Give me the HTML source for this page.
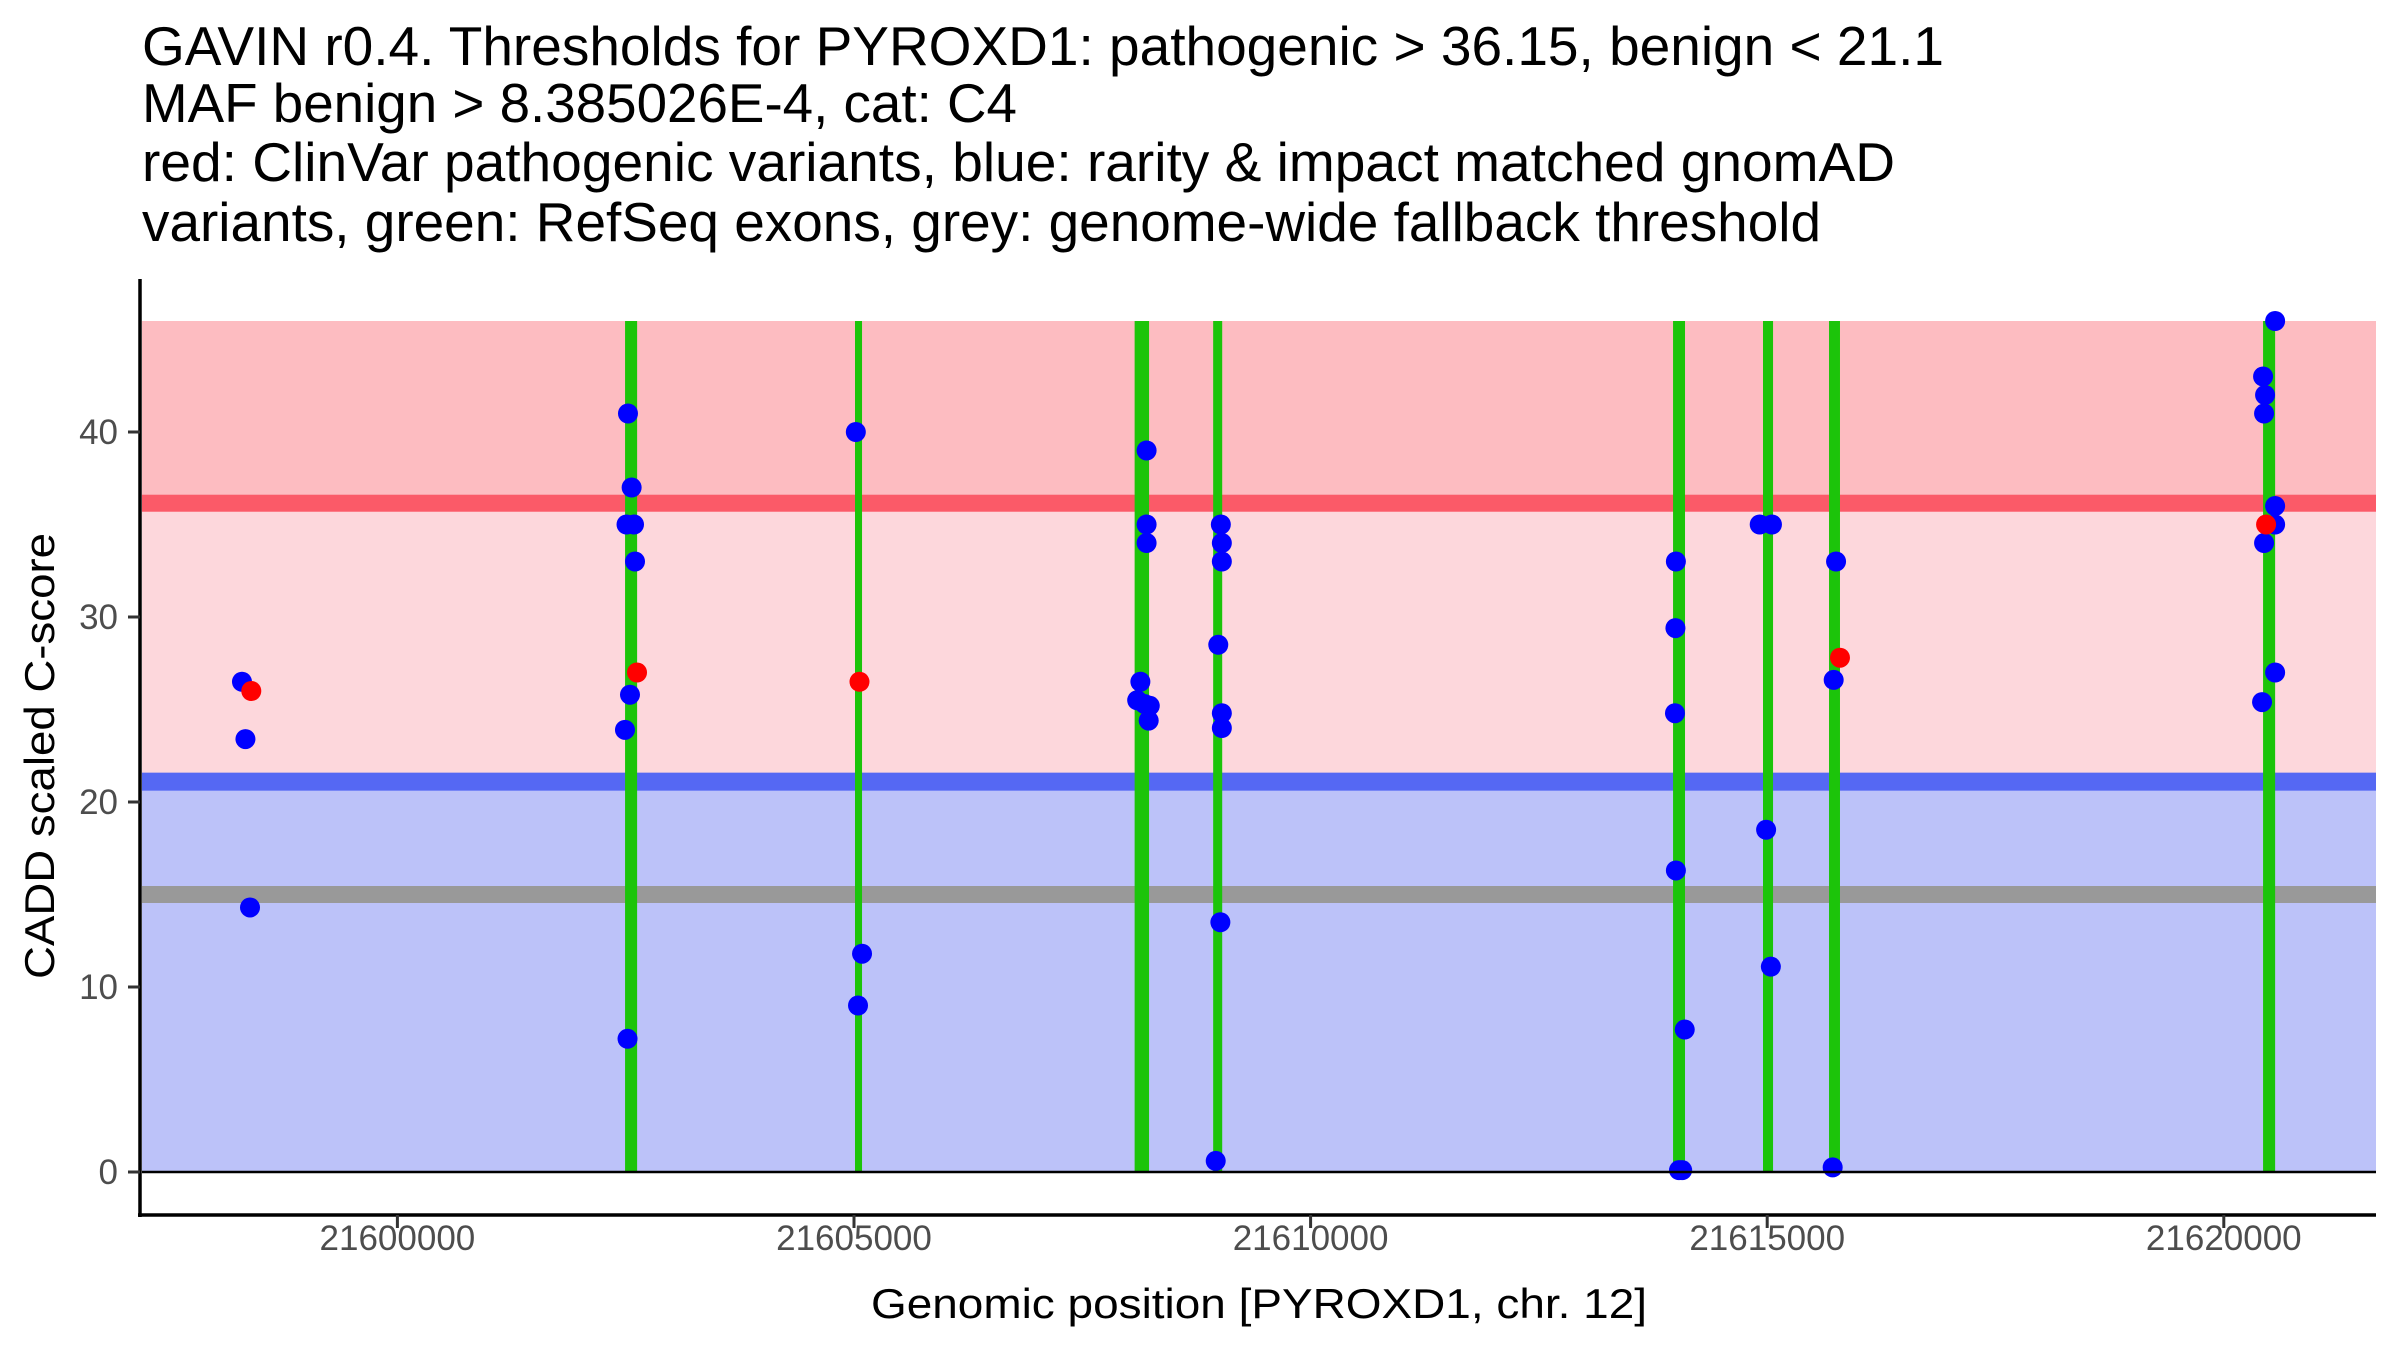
<!DOCTYPE html>
<html><head><meta charset="utf-8"><style>
html,body{margin:0;padding:0;background:#fff;}
svg{display:block;font-family:"Liberation Sans",Arial,sans-serif;}
</style></head><body>
<svg id="chart" width="2400" height="1350" viewBox="0 0 2400 1350" xmlns="http://www.w3.org/2000/svg">
<g font-size="55" fill="#000">
<text x="142" y="65" textLength="1802" lengthAdjust="spacingAndGlyphs">GAVIN r0.4. Thresholds for PYROXD1: pathogenic &gt; 36.15, benign &lt; 21.1</text>
<text x="142" y="122" textLength="875" lengthAdjust="spacingAndGlyphs">MAF benign &gt; 8.385026E-4, cat: C4</text>
<text x="142" y="181" textLength="1753" lengthAdjust="spacingAndGlyphs">red: ClinVar pathogenic variants, blue: rarity &amp; impact matched gnomAD</text>
<text x="142" y="241" textLength="1679" lengthAdjust="spacingAndGlyphs">variants, green: RefSeq exons, grey: genome-wide fallback threshold</text>
</g>
<g id="bands"></g>
<g id="exons"></g>
<g id="points"></g>
<g id="axes"></g>
<text x="0" y="0" font-size="42" text-anchor="middle" transform="translate(54,756) rotate(-90)" textLength="446" lengthAdjust="spacingAndGlyphs">CADD scaled C-score</text>
<text x="1259" y="1318" font-size="42" text-anchor="middle" textLength="776" lengthAdjust="spacingAndGlyphs">Genomic position [PYROXD1, chr. 12]</text>
</svg>
<script>
const pathoThreshold = 36.15;
const benignThreshold = 21.1;
const fallbackThreshold = 15;
const yMaxBand = 46;
const yTicks = [0, 10, 20, 30, 40];
const xTicks = [21600000, 21605000, 21610000, 21615000, 21620000];
const exonStart = [21602493, 21605011, 21608073, 21608933, 21613969, 21614954, 21615677, 21620430];
const exonEnd   = [21602625, 21605088, 21608231, 21609032, 21614100, 21615064, 21615797, 21620562];
const benignPos = [21598298, 21598336, 21598386,
 21602525, 21602565, 21602509, 21602591, 21602602, 21602547, 21602492, 21602520,
 21605020, 21605088, 21605044,
 21608204, 21608204, 21608204, 21608136, 21608101, 21608181, 21608239, 21608227,
 21609017, 21609028, 21609028, 21608989, 21609028, 21609028, 21609012, 21608961,
 21614000, 21613995, 21613990, 21614000, 21614097, 21614034, 21614069,
 21614918, 21615052, 21614988, 21615040,
 21615754, 21615728, 21615717,
 21620562, 21620430, 21620452, 21620441, 21620562, 21620562, 21620441, 21620562, 21620419];
const benignScore = [26.5, 23.4, 14.3,
 41, 37, 35, 35, 33, 25.8, 23.9, 7.2,
 40, 11.8, 9.0,
 39, 35, 34, 26.5, 25.5, 25.3, 25.2, 24.4,
 35, 34, 33, 28.5, 24.8, 24.0, 13.5, 0.6,
 33, 29.4, 24.8, 16.3, 7.7, 0.1, 0.1,
 35, 35, 18.5, 11.1,
 33, 26.6, 0.25,
 46, 43, 42, 41, 36, 35, 34, 27, 25.4];
const pathoPos = [21598400, 21602624, 21605060, 21615797, 21620463];
const pathoScore = [26.0, 27.0, 26.5, 27.8, 35.0];

const NS = "http://www.w3.org/2000/svg";
const X0 = 397.4, XS = 0.09132, Y0 = 1172, YS = 18.5;
const PL = 142, PR = 2376;
function xs(v){ return X0 + (v - 21600000) * XS; }
function ys(v){ return Y0 - v * YS; }
function mk(tag, attrs, parent){ const e = document.createElementNS(NS, tag); for (const k in attrs) e.setAttribute(k, attrs[k]); parent.appendChild(e); return e; }

const bands = document.getElementById('bands');
let r;
r = mk('rect', {x:PL, y:ys(yMaxBand), width:PR-PL, height:ys(pathoThreshold)-ys(yMaxBand), fill:'#fdbcc1'}, bands);


r = mk('rect', {x:PL, y:ys(pathoThreshold), width:PR-PL, height:ys(benignThreshold)-ys(pathoThreshold), fill:'#fdd7dc'}, bands);


r = mk('rect', {x:PL, y:ys(benignThreshold), width:PR-PL, height:ys(0)-ys(benignThreshold), fill:'#bcc2f9'}, bands);


r = mk('rect', {x:PL, y:ys(pathoThreshold)-8.5, width:PR-PL, height:17, fill:'#fb5a68'}, bands);


r = mk('rect', {x:PL, y:ys(benignThreshold)-9, width:PR-PL, height:18, fill:'#5568f3'}, bands);


r = mk('rect', {x:PL, y:ys(fallbackThreshold)-8.5, width:PR-PL, height:17, fill:'#999999'}, bands);



const exG = document.getElementById('exons');
for (let i = 0; i < exonStart.length; i++) {
  const e = mk('rect', {x:xs(exonStart[i]), y:ys(yMaxBand), width:xs(exonEnd[i])-xs(exonStart[i]), height:ys(0)-ys(yMaxBand), fill:'#1cc40a'}, exG);
  
  
}

const ptG = document.getElementById('points');
for (let i = 0; i < benignPos.length; i++) {
  const c = mk('circle', {cx:xs(benignPos[i]), cy:ys(benignScore[i]), r:10, fill:'#0000ff'}, ptG);
  
  
}
for (let i = 0; i < pathoPos.length; i++) {
  const c = mk('circle', {cx:xs(pathoPos[i]), cy:ys(pathoScore[i]), r:10, fill:'#ff0000'}, ptG);
  
  
}

const ax = document.getElementById('axes');
let l;
l = mk('line', {x1:PL, y1:ys(0), x2:PR, y2:ys(0), stroke:'#000', 'stroke-width':2.5}, ax);


l = mk('line', {x1:140, y1:279, x2:140, y2:1217, stroke:'#000', 'stroke-width':3.5}, ax);


l = mk('line', {x1:138, y1:1215, x2:PR, y2:1215, stroke:'#000', 'stroke-width':3.5}, ax);


for (const t of yTicks) {
  const tk = mk('line', {x1:128, y1:ys(t), x2:140, y2:ys(t), stroke:'#333', 'stroke-width':3}, ax);
  
  
  const tx = mk('text', {x:118, y:ys(t)+12, 'font-size':35, fill:'#4d4d4d', 'text-anchor':'end'}, ax);
  tx.textContent = String(t);
  
  
}
for (const t of xTicks) {
  const tk = mk('line', {x1:xs(t), y1:1215, x2:xs(t), y2:1228, stroke:'#333', 'stroke-width':3}, ax);
  
  
  const tx = mk('text', {x:xs(t), y:1250, 'font-size':35, fill:'#4d4d4d', 'text-anchor':'middle'}, ax);
  tx.textContent = String(t);
  
  
}
</script>
</body></html>
